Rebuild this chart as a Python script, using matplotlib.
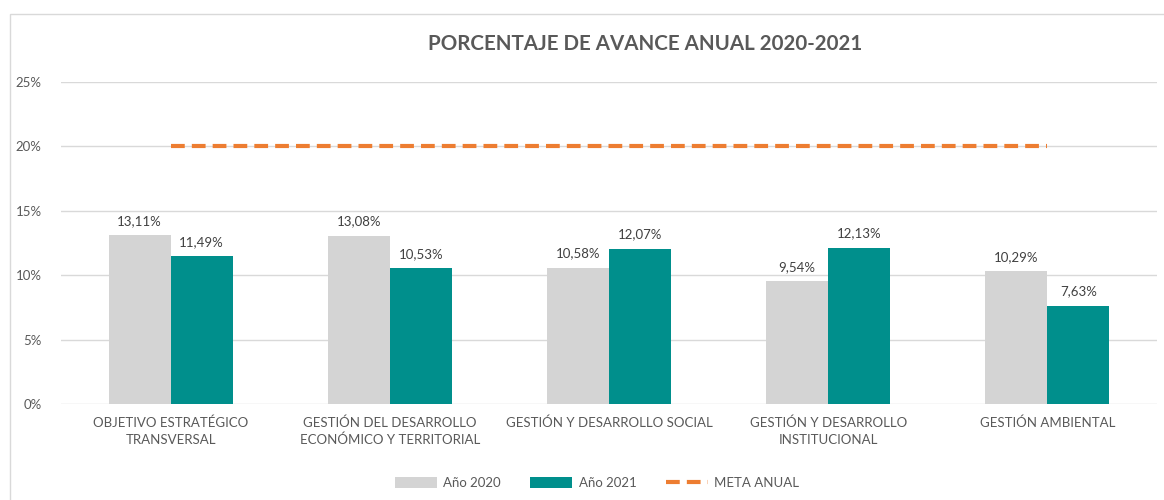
import matplotlib
matplotlib.use("Agg")
import matplotlib.pyplot as plt
import numpy as np
from matplotlib.patches import Rectangle
from matplotlib.lines import Line2D
from matplotlib.patches import Patch

categories = ["OBJETIVO ESTRATÉGICO\nTRANSVERSAL",
              "GESTIÓN DEL DESARROLLO\nECONÓMICO Y TERRITORIAL",
              "GESTIÓN Y DESARROLLO SOCIAL",
              "GESTIÓN Y DESARROLLO\nINSTITUCIONAL",
              "GESTIÓN AMBIENTAL"]
anio_2020 = [13.11, 13.08, 10.58, 9.54, 10.29]
anio_2021 = [11.49, 10.53, 12.07, 12.13, 7.63]
meta_anual = [20, 20, 20, 20, 20]
y_ticks = [0, 5, 10, 15, 20, 25]
title = "PORCENTAJE DE AVANCE ANUAL 2020-2021"

plt.rcParams['font.family'] = ['Lato', 'DejaVu Sans']
text_color = "#595959"
c2020 = "#D4D4D4"
c2021 = "#008F8C"
corange = "#ED7D31"

fig = plt.figure(figsize=(11.64, 5.0), dpi=100)
# outer chart border
fig.patches.append(Rectangle((10/1164, -0.01), 1.2, 1 - 14/500 + 0.01,
                             transform=fig.transFigure, fill=False,
                             edgecolor="#D9D9D9", linewidth=1))

ax = fig.add_axes([61/1164, 1 - 404/500, (1157-61)/1164, (404-82)/500])
x = np.arange(len(categories))
w = 0.283
b1 = ax.bar(x - w/2, anio_2020, w, color=c2020, label="Año 2020", zorder=3)
b2 = ax.bar(x + w/2, anio_2021, w, color=c2021, label="Año 2021", zorder=3)
ax.plot(x, meta_anual, color=corange, linestyle=(0, (3.3, 1.7)), linewidth=3,
        label="META ANUAL", zorder=4)

def fmt(v):
    return f"{v:.2f}".replace(".", ",") + "%"

for bars, vals in ((b1, anio_2020), (b2, anio_2021)):
    for r, v in zip(bars, vals):
        ax.annotate(fmt(v), (r.get_x() + r.get_width()/2, v),
                    xytext=(0, 6), textcoords="offset points",
                    ha="center", va="bottom", fontsize=9.5, color="#404040")

ax.set_xlim(-0.5, len(categories) - 0.5)
ax.set_ylim(0, 25)
ax.set_yticks(y_ticks)
ax.set_yticklabels([f"{t}%" for t in y_ticks], fontsize=9.5, color=text_color)
ax.set_xticks(x)
ax.set_xticklabels(categories, fontsize=9.5, color=text_color, linespacing=1.45)
ax.tick_params(axis="both", length=0)
ax.tick_params(axis="y", pad=14)
ax.tick_params(axis="x", pad=9)
ax.grid(axis="y", color="#D9D9D9", linewidth=1, zorder=0)
for s in ax.spines.values():
    s.set_visible(False)

fig.text(645/1164, 1 - 44/500, title, ha="center", va="center",
         fontsize=14.8, fontweight="bold", color=text_color)

handles = [Patch(facecolor=c2020, edgecolor="none"),
           Patch(facecolor=c2021, edgecolor="none"),
           Line2D([0], [0], color=corange, linestyle=(0, (3.3, 1.7)), linewidth=3)]
leg = fig.legend(handles, ["Año 2020", "Año 2021", "META ANUAL"],
                 loc="center", bbox_to_anchor=(597/1164, 1 - 483/500),
                 ncol=3, frameon=False, fontsize=9.5, handlelength=3.2,
                 handleheight=0.9, handletextpad=0.5, columnspacing=2.2)
for t in leg.get_texts():
    t.set_color(text_color)

fig.savefig("out.png", dpi=100, facecolor="white")
